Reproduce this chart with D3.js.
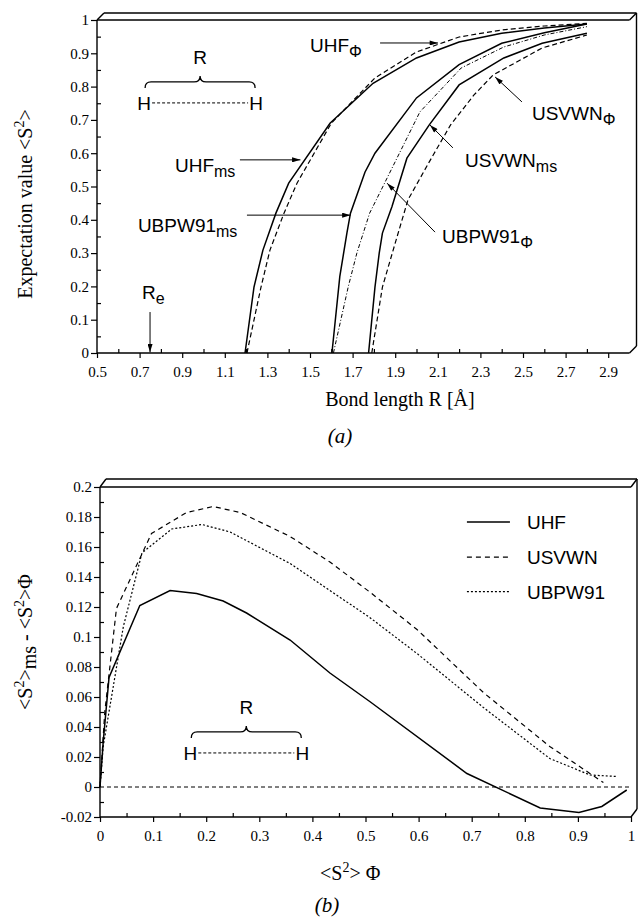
<!DOCTYPE html>
<html lang="en">
<head>
<meta charset="UTF-8">
<title>S2 expectation values for H2</title>
<script src="https://d3js.org/d3.v7.min.js"></script>
<style>
  body { margin: 0; background: #fff; }
  svg { display: block; }
  .tick text { font-family: "Liberation Serif", "Times New Roman", serif; font-size: 15px; fill: #000; }
  .domain { display: none; }
  .tick line { stroke: #000; stroke-width: 1.2; }
  .lbl { font-family: "Liberation Sans", Arial, sans-serif; font-size: 19px; fill: #000; }
  .title { font-family: "Liberation Serif", "Times New Roman", serif; font-size: 20px; fill: #000; }
  .cap { font-family: "Liberation Serif", "Times New Roman", serif; font-size: 21px; font-style: italic; }
</style>
</head>
<body>
<script>
// ---- panel (a): <S2> vs bond length R ----
const uhfMs = [[1.195,0],[1.237,0.198],[1.279,0.309],[1.34,0.42],[1.40,0.51],[1.594,0.69],[1.796,0.81],[2.0,0.886],[2.2,0.934],[2.4,0.96],[2.6,0.976],[2.8,0.988]];
const uhfPhi = [[1.204,0],[1.27,0.198],[1.312,0.309],[1.378,0.42],[1.439,0.51],[1.60,0.69],[1.805,0.826],[2.0,0.904],[2.2,0.949],[2.4,0.97],[2.6,0.982],[2.8,0.99]];
const ubpwMs = [[1.603,0],[1.64,0.23],[1.674,0.363],[1.69,0.42],[1.758,0.543],[1.805,0.6],[2.0,0.766],[2.2,0.866],[2.4,0.93],[2.6,0.962],[2.8,0.988]];
const ubpwPhi = [[1.61,0],[1.68,0.2],[1.72,0.30],[1.78,0.42],[1.85,0.51],[2.016,0.724],[2.21,0.856],[2.41,0.919],[2.6,0.955],[2.8,0.98]];
const usvwnMs = [[1.775,0],[1.805,0.198],[1.825,0.30],[1.84,0.36],[1.885,0.44],[1.955,0.585],[2.06,0.685],[2.2,0.805],[2.41,0.886],[2.59,0.93],[2.8,0.96]];
const usvwnPhi = [[1.79,0],[1.84,0.198],[1.90,0.33],[1.96,0.46],[2.06,0.574],[2.16,0.685],[2.27,0.775],[2.36,0.835],[2.59,0.916],[2.8,0.955]];
const xTicksA = [0.5,0.7,0.9,1.1,1.3,1.5,1.7,1.9,2.1,2.3,2.5,2.7,2.9];
const yTicksA = [0,0.1,0.2,0.3,0.4,0.5,0.6,0.7,0.8,0.9,1];
const rE = 0.749;

// ---- panel (b): <S2>ms - <S2>phi vs <S2>phi ----
const uhfDiff = [[0,0],[0.006,0.03],[0.017,0.073],[0.075,0.121],[0.132,0.131],[0.182,0.129],[0.232,0.124],[0.276,0.116],[0.358,0.098],[0.433,0.076],[0.508,0.057],[0.691,0.009],[0.829,-0.014],[0.902,-0.017],[0.945,-0.013],[0.992,-0.002]];
const usvwnDiff = [[0,0],[0.009,0.05],[0.031,0.119],[0.097,0.169],[0.163,0.183],[0.213,0.187],[0.264,0.183],[0.358,0.167],[0.433,0.15],[0.508,0.13],[0.597,0.105],[0.722,0.063],[0.847,0.027],[0.948,0.003]];
const ubpwDiff = [[0,0],[0.006,0.027],[0.044,0.107],[0.079,0.156],[0.135,0.172],[0.192,0.175],[0.245,0.17],[0.358,0.149],[0.433,0.131],[0.508,0.113],[0.597,0.089],[0.722,0.053],[0.847,0.019],[0.923,0.008],[0.973,0.007]];
const xTicksB = [0,0.1,0.2,0.3,0.4,0.5,0.6,0.7,0.8,0.9,1];
const yTicksB = [-0.02,0,0.02,0.04,0.06,0.08,0.1,0.12,0.14,0.16,0.18,0.2];
const legendNames = ["UHF","USVWN","UBPW91"];

const svg = d3.select("body").append("svg").attr("width", 638).attr("height", 919);

svg.append("defs").append("marker")
    .attr("id", "arr").attr("viewBox", "0 0 10 6").attr("refX", 10).attr("refY", 3)
    .attr("markerWidth", 9).attr("markerHeight", 5).attr("markerUnits", "userSpaceOnUse")
    .attr("orient", "auto")
  .append("path").attr("d", "M0,0L10,3L0,6Z");

const fmt = d => String(+d.toFixed(2));

function drawFrame(x, y, dx, dy) {
    const [x0, x1] = x.range(), [y1, y0] = y.range();
    const segs = [
        [x0, y0, x0, y1], [x0, y1, x1, y1], [x0, y0, x1, y0],
        [x0 + dx, y0 + dy, x1 + dx, y0 + dy],
        [x0, y0, x0 + dx, y0 + dy], [x1, y0, x1 + dx, y0 + dy], [x1, y1, x1 + dx, y1 + dy],
        [x1 + dx, y0 + dy, x1 + dx, y1 + dy]
    ];
    svg.append("g").selectAll("line").data(segs).enter().append("line")
        .attr("x1", d => d[0]).attr("y1", d => d[1]).attr("x2", d => d[2]).attr("y2", d => d[3])
        .attr("stroke", "#000").attr("stroke-width", 1.4);
}

function drawAxes(x, y, xMajor, xMinor, yMajor, yMinor) {
    const [y1] = y.range(), [x0] = x.range();
    svg.append("g").attr("transform", `translate(0,${y1})`)
        .call(d3.axisBottom(x).tickValues(xMajor).tickSize(5).tickPadding(8).tickFormat(fmt));
    svg.append("g").attr("transform", `translate(0,${y1})`)
        .call(d3.axisBottom(x).tickValues(xMinor).tickSize(-4).tickFormat(""));
    svg.append("g").attr("transform", `translate(${x0},0)`)
        .call(d3.axisLeft(y).tickValues(yMajor).tickSize(6).tickPadding(2).tickFormat(fmt));
    svg.append("g").attr("transform", `translate(${x0},0)`)
        .call(d3.axisLeft(y).tickValues(yMinor).tickSize(-4).tickFormat(""));
}

function curve(x, y, data, dash, w) {
    svg.append("path").datum(data)
        .attr("d", d3.line().x(d => x(d[0])).y(d => y(d[1])))
        .attr("fill", "none").attr("stroke", "#000")
        .attr("stroke-width", w).attr("stroke-dasharray", dash);
}

function label(px, py, main, sub) {
    const t = svg.append("text").attr("class", "lbl").attr("x", px).attr("y", py).text(main);
    if (sub) t.append("tspan").attr("dy", 5).attr("font-size", 16).text(sub);
}

function arrow(xa, ya, xb, yb) {
    svg.append("line").attr("x1", xa).attr("y1", ya).attr("x2", xb).attr("y2", yb)
        .attr("stroke", "#000").attr("stroke-width", 1).attr("marker-end", "url(#arr)");
}

function molecule(cx, cy) {
    const g = svg.append("g").attr("transform", `translate(${cx},${cy})`);
    g.append("text").attr("class", "lbl").attr("x", 0).attr("y", -39).attr("text-anchor", "middle").text("R");
    g.append("path").attr("fill", "none").attr("stroke", "#000").attr("stroke-width", 1.3)
        .attr("d", "M-55,-15 Q-55,-21 -49,-21 L-6,-21 Q0,-21 0,-27 Q0,-21 6,-21 L49,-21 Q55,-21 55,-15");
    g.append("text").attr("class", "lbl").attr("x", -56).attr("y", 7).attr("text-anchor", "middle").text("H");
    g.append("text").attr("class", "lbl").attr("x", 56).attr("y", 7).attr("text-anchor", "middle").text("H");
    g.append("line").attr("x1", -48).attr("x2", 48).attr("y1", 0).attr("y2", 0)
        .attr("stroke", "#000").attr("stroke-width", 1).attr("stroke-dasharray", "3,2");
}

// ===== panel (a) =====
const xA = d3.scaleLinear().domain([0.5, 3.0]).range([97, 629.5]);
const yA = d3.scaleLinear().domain([0, 1]).range([353, 20]);
drawFrame(xA, yA, 7, -7);
drawAxes(xA, yA, xTicksA, d3.range(0.6, 3.0, 0.2), yTicksA, d3.range(0.05, 1, 0.1));

curve(xA, yA, uhfMs, null, 1.5);
curve(xA, yA, uhfPhi, "5,3", 1.2);
curve(xA, yA, ubpwMs, null, 1.5);
curve(xA, yA, ubpwPhi, "4,2,1,2", 1);
curve(xA, yA, usvwnMs, null, 1.5);
curve(xA, yA, usvwnPhi, "5,3", 1.2);

molecule(xA(0.984), yA(0.751));

label(xA(0.866), yA(0.544), "UHF", "ms");
arrow(xA(1.171), yA(0.58), xA(1.455), yA(0.58));
label(xA(0.692), yA(0.363), "UBPW91", "ms");
arrow(xA(1.204), yA(0.414), xA(1.69), yA(0.414));
label(xA(0.711), yA(0.162), "R", "e");
arrow(xA(rE), yA(0.123), xA(rE), yA(0.002));
label(xA(1.5), yA(0.904), "UHF", "Φ");
arrow(xA(1.829), yA(0.931), xA(2.101), yA(0.931));
label(xA(2.542), yA(0.70), "USVWN", "Φ");
arrow(xA(2.495), yA(0.754), xA(2.369), yA(0.829));
label(xA(2.228), yA(0.559), "USVWN", "ms");
arrow(xA(2.171), yA(0.616), xA(2.063), yA(0.685));
label(xA(2.12), yA(0.33), "UBPW91", "Φ");
arrow(xA(2.087), yA(0.363), xA(1.862), yA(0.51));

const tA = svg.append("text").attr("class", "title").attr("text-anchor", "middle")
    .attr("transform", "translate(32,204) rotate(-90)").text("Expectation value <S");
tA.append("tspan").attr("dy", -8).attr("font-size", 14).text("2");
tA.append("tspan").attr("dy", 8).text(">");
svg.append("text").attr("class", "title").attr("text-anchor", "middle").attr("x", 400).attr("y", 406)
    .text("Bond length R [Å]");
svg.append("text").attr("class", "cap").attr("text-anchor", "middle").attr("x", 340).attr("y", 443).text("(a)");

// ===== panel (b) =====
const xB = d3.scaleLinear().domain([0, 1]).range([100, 631]);
const yB = d3.scaleLinear().domain([-0.02, 0.2]).range([817, 487]);
drawFrame(xB, yB, 6, -8);
drawAxes(xB, yB, xTicksB, d3.range(0.05, 1, 0.1), yTicksB, d3.range(-0.01, 0.2, 0.02));

curve(xB, yB, [[0, 0], [1, 0]], "4,3", 1);
curve(xB, yB, uhfDiff, null, 1.5);
curve(xB, yB, usvwnDiff, "5,4", 1.2);
curve(xB, yB, ubpwDiff, "2,2", 1.2);

const legDash = [null, "5,4", "2,2"];
const legY = [0.1767, 0.1533, 0.1303];
legendNames.forEach((n, i) => {
    svg.append("line").attr("x1", xB(0.691)).attr("x2", xB(0.772)).attr("y1", yB(legY[i])).attr("y2", yB(legY[i]))
        .attr("stroke", "#000").attr("stroke-width", i === 0 ? 1.5 : 1.2).attr("stroke-dasharray", legDash[i]);
    svg.append("text").attr("class", "lbl").attr("x", xB(0.804)).attr("y", yB(legY[i]) + 7).text(n);
});

molecule(xB(0.2755), yB(0.0227));

const tB = svg.append("text").attr("class", "title").attr("text-anchor", "middle")
    .attr("transform", "translate(32,642) rotate(-90)").text("<S");
tB.append("tspan").attr("dy", -8).attr("font-size", 14).text("2");
tB.append("tspan").attr("dy", 8).text(">");
tB.append("tspan").attr("dy", 4).text("ms");
tB.append("tspan").attr("dy", -4).text(" - <S");
tB.append("tspan").attr("dy", -8).attr("font-size", 14).text("2");
tB.append("tspan").attr("dy", 8).text(">Φ");

const xtB = svg.append("text").attr("class", "title").attr("x", 320).attr("y", 880).text("<S");
xtB.append("tspan").attr("dy", -8).attr("font-size", 14).text("2");
xtB.append("tspan").attr("dy", 8).text("> Φ");
svg.append("text").attr("class", "cap").attr("text-anchor", "middle").attr("x", 327).attr("y", 912).text("(b)");
</script>
</body>
</html>
